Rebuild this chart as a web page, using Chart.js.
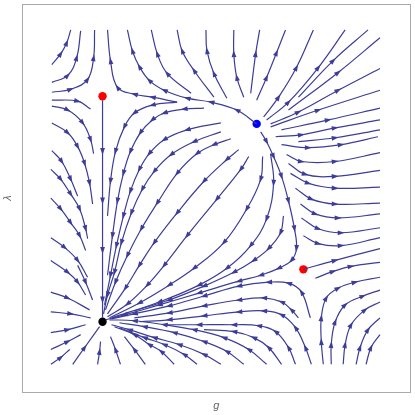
<!DOCTYPE html>
<html>
<head>
<meta charset="utf-8">
<script src="https://cdn.jsdelivr.net/npm/chart.js@4.4.1/dist/chart.umd.min.js"></script>
<style>
html,body{margin:0;padding:0;background:#fff;}
#wrap{width:415px;height:415px;}
</style>
</head>
<body>
<div id="wrap"><canvas id="c" width="415" height="415"></canvas></div>
<script>
// Fixed points (g, λ)
const fixedPointNames  = ['Gaussian', 'saddle A', 'non-Gaussian', 'saddle B'];
const fixedPointG      = [0, 0, 155, 202];
const fixedPointLambda = [0, 228, 200, 53];

// Streamlines, each listed in the direction of the flow, as [g, λ] pairs
const upperLeftFlow = [
  [[-51,260],[-42,271],[-36,282],[-32,295]],
  [[-51,242],[-35,249],[-26,267],[-22,294]],
  [[-51,232],[-32,235],[-15,245],[-9,267],[-8,295]],
  [[-51,224],[-25,223],[-12,215]],
  [[-51,218],[-35,214],[-20,201],[-12,184],[-9,170]],
  [[-51,201],[-35,191],[-25,177],[-18,160],[-13,140],[-10,119]]
];
const leftFlow = [
  [[-51,173],[-41,162],[-32,144],[-25,127]],
  [[-52,154],[-42,144],[-32,129],[-23,114],[-17,94],[-15,84]],
  [[-52,125],[-42,114],[-32,100],[-23,87],[-17,72]],
  [[-52,85],[-38,75],[-25,62],[-15,45]],
  [[-52,62],[-35,50],[-25,40],[-17,27]],
  [[-25,57],[-17,40],[-10,22]],
  [[-52,30],[-35,24],[-13,12]],
  [[-52,10],[-32,8],[-12,4]],
  [[-52,-11],[-35,-8],[-17,-3]],
  [[-52,-28],[-35,-20],[-22,-13]],
  [[-52,-43],[-42,-36],[-33,-28]]
];
const lowerLeftFlow = [
  [[-30,-43],[-18,-26],[-3,-5]],
  [[-5,-43],[-3,-30],[-2,-20]],
  [[18,-43],[13,-28],[8,-15]],
  [[43,-43],[32,-28],[22,-15]]
];
const saddleAFlow = [
  [[0,224],[0,172],[0,122],[0,72],[0,22],[0,4]]
];
const upperFlow = [
  [[155,200],[135,214],[109,222],[85,226],[62,234],[47,244],[37,258],[30,274],[25,295]],
  [[75,222],[50,227],[32,230],[15,237],[8,264],[5,295]],
  [[89,231],[65,251],[55,271],[49,295]],
  [[112,227],[92,254],[80,274],[75,295]],
  [[125,226],[112,251],[105,274],[104,295]],
  [[142,227],[135,247],[132,271],[132,295]],
  [[149,231],[154,271],[158,295]],
  [[155,224],[165,247],[175,272],[184,295]]
];
const upperRightFlow = [
  [[162,207],[177,227],[195,257],[212,295]],
  [[165,204],[187,222],[217,257],[244,295]],
  [[197,227],[232,264],[267,295]],
  [[187,214],[237,252],[279,287]],
  [[169,200],[197,212],[237,234],[279,256]],
  [[169,197],[217,214],[279,234]],
  [[180,194],[227,204],[279,216]],
  [[174,187],[200,189],[234,196],[279,204]],
  [[197,182],[234,186],[279,194]],
  [[180,179],[207,176],[240,179],[277,187]]
];
const rightFlow = [
  [[185,169],[200,162],[234,162],[279,171]],
  [[187,160],[204,149],[234,147],[279,153]],
  [[189,150],[207,140],[234,135],[279,136]],
  [[194,135],[210,124],[234,119],[279,120]],
  [[199,119],[214,109],[237,105],[279,109]],
  [[200,105],[217,94],[240,90],[279,95]],
  [[202,87],[217,79],[240,77],[279,85]],
  [[202,53],[234,62],[279,74]],
  [[214,44],[232,51],[250,56],[279,60]]
];
const separatrixFlow = [
  [[159,192],[165,182],[172,167],[180,147],[187,122],[193,94],[195,74],[190,62],[177,54],[159,47],[137,41],[97,29],[57,17],[22,7],[3,2]]
];
const fanFlow = [
  [[75,222],[50,219],[32,211],[22,197],[13,172],[8,142],[5,107]],
  [[102,216],[82,215],[62,211],[50,204],[38,191],[28,172],[21,150],[15,122],[10,87],[5,47]],
  [[119,201],[85,194],[62,184],[47,170],[37,154],[28,132],[21,107],[14,77],[8,47],[2,17]],
  [[119,192],[92,182],[69,169],[52,152],[40,134],[29,110],[19,80],[12,50],[5,27],[1,8]],
  [[129,185],[112,179],[95,170],[75,150],[55,120],[39,94],[25,67],[13,40],[3,12]],
  [[137,174],[125,164],[102,142],[75,110],[52,80],[37,57],[23,34],[5,8]],
  [[147,167],[139,154],[115,124],[85,87],[62,57],[45,37],[25,18],[5,5]],
  [[161,167],[159,144],[145,114],[122,80],[92,54],[67,37],[37,19],[7,4]],
  [[169,170],[172,140],[165,104],[149,77],[125,54],[97,37],[57,20],[9,4]],
  [[182,107],[179,90],[167,74],[152,62],[132,50],[102,36],[67,22],[32,11]]
];
const lowerRightFlow = [
  [[222,-43],[220,-20],[220,4],[225,24],[237,34],[254,40],[279,45]],
  [[230,-43],[230,-23],[234,0],[244,17],[262,26],[279,32]],
  [[242,-43],[244,-23],[250,-3],[264,12],[279,20]],
  [[255,-43],[259,-26],[267,-8],[279,4]],
  [[265,-43],[270,-26],[279,-13]],
  [[209,4],[200,30],[187,39],[167,40],[137,36],[102,26],[67,16],[32,8],[9,3]],
  [[197,4],[190,12],[180,20],[162,24],[137,22],[102,16],[67,9],[32,4]],
  [[210,-43],[204,-26],[194,-6],[180,7],[162,11],[137,10],[102,6],[67,2],[37,0]],
  [[194,-43],[187,-26],[174,-10],[157,-4],[132,-3],[97,-3],[62,-3]],
  [[180,-43],[167,-26],[152,-16],[132,-10],[102,-8]]
];
const lowerFlow = [
  [[165,-43],[147,-28],[122,-16],[92,-8],[62,-3],[32,1],[7,2]],
  [[142,-43],[125,-30],[102,-20],[72,-11],[42,-5],[17,-1]],
  [[119,-43],[102,-33],[77,-23],[52,-16],[27,-8],[9,-3]],
  [[95,-43],[82,-33],[62,-23],[42,-16],[17,-6]],
  [[72,-43],[59,-30],[47,-23],[32,-13],[12,-5]]
];

const gRange = [-81, 310];
const lambdaRange = [-71, 321];

// ---- styling / chart construction ----
const STREAM_COLOR = '#3d3d99';
const allStreams = [].concat(upperLeftFlow, leftFlow, lowerLeftFlow, saddleAFlow, upperFlow,
  upperRightFlow, rightFlow, separatrixFlow, fanFlow, lowerRightFlow, lowerFlow);

const datasets = allStreams.map(line => ({
  data: line.map(p => ({x: p[0], y: p[1]})),
  showLine: true,
  borderColor: STREAM_COLOR,
  backgroundColor: STREAM_COLOR,
  borderWidth: 1.2,
  pointRadius: 0,
  pointHoverRadius: 0,
  tension: 0.4,
  isStream: true
}));

const fpColors = ['#000000', '#ff0000', '#0000ff', '#ff0000'];
datasets.push({
  data: fixedPointG.map((g, i) => ({x: g, y: fixedPointLambda[i]})),
  showLine: false,
  pointRadius: 4.2,
  pointBorderWidth: 0,
  pointBackgroundColor: fpColors,
  pointBorderColor: fpColors
});

const arrowPlugin = {
  id: 'arrows',
  afterDatasetsDraw(chart) {
    const ctx = chart.ctx;
    ctx.save();
    ctx.fillStyle = STREAM_COLOR;
    chart.data.datasets.forEach((ds, di) => {
      if (!ds.isStream) return;
      const pts = chart.getDatasetMeta(di).data;
      const spots = [];
      if (pts.length === 2) {
        spots.push({x:(pts[0].x+pts[1].x)/2, y:(pts[0].y+pts[1].y)/2, dx:pts[1].x-pts[0].x, dy:pts[1].y-pts[0].y});
      } else {
        for (let j = 1; j < pts.length - 1; j++) {
          spots.push({x:pts[j].x, y:pts[j].y, dx:pts[j+1].x-pts[j-1].x, dy:pts[j+1].y-pts[j-1].y});
        }
      }
      spots.forEach(s => {
        const a = Math.atan2(s.dy, s.dx);
        const L = 7, W = 2.4;
        const c = Math.cos(a), si = Math.sin(a);
        ctx.beginPath();
        ctx.moveTo(s.x + c*L/2, s.y + si*L/2);
        ctx.lineTo(s.x - c*L/2 - si*W, s.y - si*L/2 + c*W);
        ctx.lineTo(s.x - c*L/2 + si*W, s.y - si*L/2 - c*W);
        ctx.closePath();
        ctx.fill();
      });
    });
    ctx.restore();
  }
};

const FRAME = '#aaaaaa';
const hidden = {display:false};
new Chart(document.getElementById('c'), {
  type: 'scatter',
  data: {datasets},
  plugins: [arrowPlugin],
  options: {
    responsive: false,
    animation: false,
    devicePixelRatio: 1,
    layout: {padding: 0},
    plugins: {legend: hidden, tooltip: {enabled:false}},
    scales: {
      x: {type:'linear', position:'bottom', min:gRange[0], max:gRange[1],
          grid:{display:false, drawTicks:false}, ticks:{display:false},
          border:{display:true, color:FRAME, width:1},
          title:{display:true, text:'g', color:'#666666', font:{family:'Liberation Sans', size:11, style:'italic'}, padding:{top:0,bottom:2}},
          afterFit(s){ s.height = 23; }},
      y: {type:'linear', position:'left', min:lambdaRange[0], max:lambdaRange[1],
          grid:{display:false, drawTicks:false}, ticks:{display:false},
          border:{display:true, color:FRAME, width:1},
          title:{display:true, text:'λ', color:'#666666', font:{family:'Liberation Sans', size:11, style:'italic'}, padding:{top:1,bottom:0}},
          afterFit(s){ s.width = 22; }},
      x2: {type:'linear', position:'top', min:gRange[0], max:gRange[1],
          grid:{display:false, drawTicks:false}, ticks:{display:false},
          border:{display:true, color:FRAME, width:1},
          afterFit(s){ s.height = 1; }},
      y2: {type:'linear', position:'right', min:lambdaRange[0], max:lambdaRange[1],
          grid:{display:false, drawTicks:false}, ticks:{display:false},
          border:{display:true, color:FRAME, width:1},
          afterFit(s){ s.width = 2; }}
    }
  }
});
</script>
</body>
</html>
